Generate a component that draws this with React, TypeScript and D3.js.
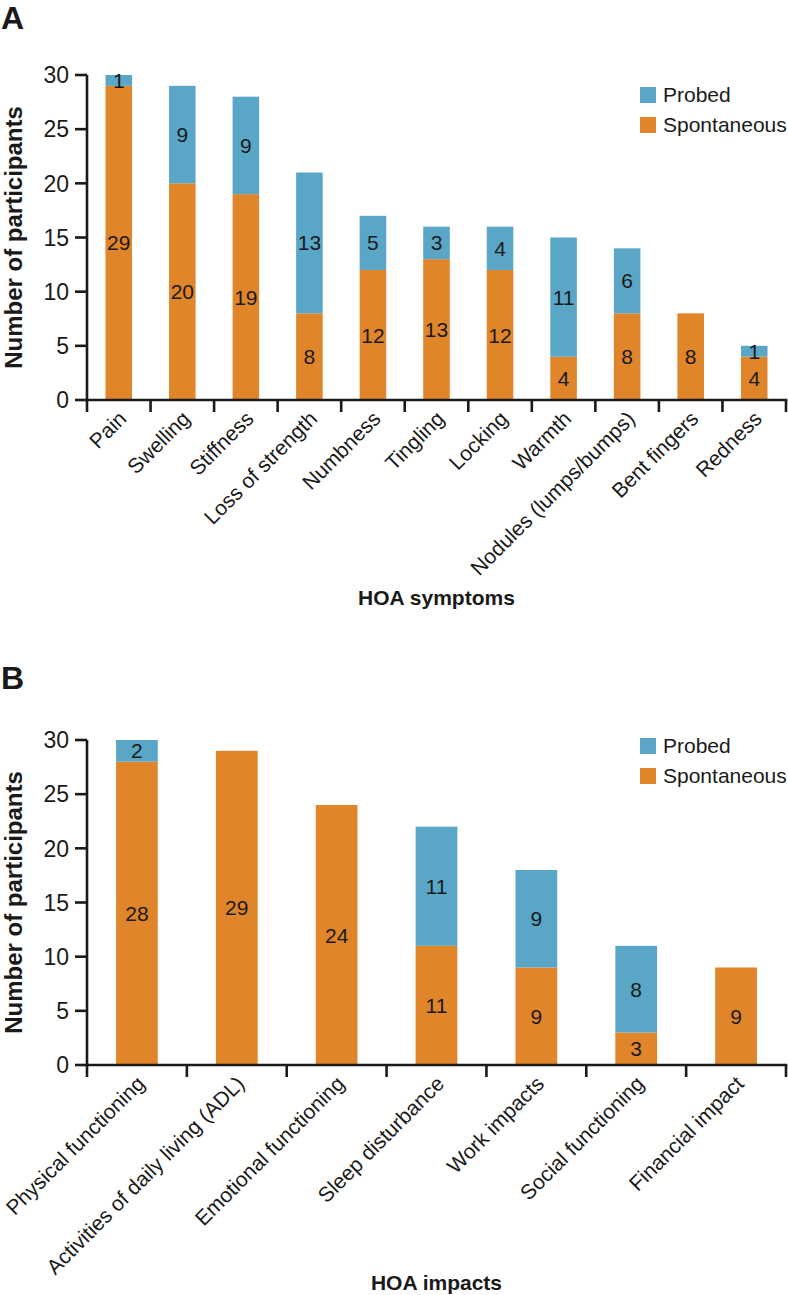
import React from "react";
import * as d3 from "d3";

const symptomCategories = [
  "Pain", "Swelling", "Stiffness", "Loss of strength", "Numbness", "Tingling",
  "Locking", "Warmth", "Nodules (lumps/bumps)", "Bent fingers", "Redness",
];
const symptomSpontaneous = [29, 20, 19, 8, 12, 13, 12, 4, 8, 8, 4];
const symptomProbed = [1, 9, 9, 13, 5, 3, 4, 11, 6, 0, 1];

const impactCategories = [
  "Physical functioning", "Activities of daily living (ADL)", "Emotional functioning",
  "Sleep disturbance", "Work impacts", "Social functioning", "Financial impact",
];
const impactSpontaneous = [28, 29, 24, 11, 9, 3, 9];
const impactProbed = [2, 0, 0, 11, 9, 8, 0];

const yTicks = [0, 5, 10, 15, 20, 25, 30];
const seriesKeys = ["Spontaneous", "Probed"];
const legendKeys = ["Probed", "Spontaneous"];

const COLORS: Record<string, string> = { Probed: "#5aa6c6", Spontaneous: "#e0852a" };
const FONT = "Arial, 'Liberation Sans', Helvetica, sans-serif";
const INK = "#1a1a1a";

type PanelProps = {
  letter: string;
  letterY: number;
  categories: string[];
  spontaneous: number[];
  probed: number[];
  top: number;
  bottom: number;
  legendY: number;
  xTitle: string;
  xTitleY: number;
};

function Panel(p: PanelProps) {
  const left = 87;
  const right = 786;
  const x = d3.scaleBand<string>().domain(p.categories).range([left, right]).padding(0);
  const y = d3.scaleLinear().domain([0, 30]).range([p.bottom, p.top]);
  const bw = x.bandwidth() * 0.418;
  const rows = p.categories.map((c, i) => ({ cat: c, Spontaneous: p.spontaneous[i], Probed: p.probed[i] }));
  const stacked = d3.stack<any>().keys(seriesKeys)(rows);
  const tickXs = [...p.categories.map((c) => x(c) as number), right];

  return (
    <g fontFamily={FONT}>
      <text x={1} y={p.letterY} fontSize={32} fontWeight="bold" fill={INK}>{p.letter}</text>
      {stacked.map((layer) => (
        <g key={layer.key}>
          {layer.map((d, i) => {
            const v = d[1] - d[0];
            if (v <= 0) return null;
            const cx = (x(p.categories[i]) as number) + x.bandwidth() / 2;
            return (
              <g key={i}>
                <rect x={cx - bw / 2} y={y(d[1])} width={bw} height={y(d[0]) - y(d[1])}
                  fill={COLORS[layer.key]} />
                <text x={cx} y={(y(d[0]) + y(d[1])) / 2} dy="0.36em" textAnchor="middle"
                  fontSize={21} fill={INK}>{v}</text>
              </g>
            );
          })}
        </g>
      ))}
      {/* y axis */}
      <line x1={left} x2={left} y1={y(30)} y2={y(0) + 1.3} stroke={INK} strokeWidth={2.6} />
      {yTicks.map((t) => (
        <g key={t}>
          <line x1={left - 12} x2={left} y1={y(t)} y2={y(t)} stroke={INK} strokeWidth={2.6} />
          <text x={69} y={y(t)} dy="0.36em" textAnchor="end" fontSize={23} fill={INK}>{t}</text>
        </g>
      ))}
      <text transform={`translate(22,${(y(0) + y(30)) / 2}) rotate(-90)`} textAnchor="middle"
        fontSize={24} fontWeight="bold" fill={INK}>Number of participants</text>
      {/* x axis */}
      <line x1={left - 1.3} x2={right + 1.3} y1={y(0)} y2={y(0)} stroke={INK} strokeWidth={2.6} />
      {tickXs.map((tx, i) => (
        <line key={i} x1={tx} x2={tx} y1={y(0)} y2={y(0) + 12} stroke={INK} strokeWidth={2.6} />
      ))}
      {p.categories.map((c) => {
        const cx = (x(c) as number) + x.bandwidth() / 2 + 9;
        const ty = y(0) + 20;
        return (
          <text key={c} transform={`translate(${cx},${ty}) rotate(-45)`} textAnchor="end"
            fontSize={21} fill={INK}>{c}</text>
        );
      })}
      <text x={(left + right) / 2} y={p.xTitleY} textAnchor="middle" fontSize={21}
        fontWeight="bold" fill={INK}>{p.xTitle}</text>
      {/* legend */}
      {legendKeys.map((k, i) => (
        <g key={k} transform={`translate(640,${p.legendY + i * 30})`}>
          <rect x={0} y={0} width={16} height={16} fill={COLORS[k]} />
          <text x={23} y={15} fontSize={21} fill={INK}>{k}</text>
        </g>
      ))}
    </g>
  );
}

export default function App() {
  return (
    <svg width={788} height={1295} style={{ position: "absolute", left: 0, top: 0, background: "#fff" }}>
      <rect width={788} height={1295} fill="#fff" />
      <Panel letter="A" letterY={29} categories={symptomCategories} spontaneous={symptomSpontaneous}
        probed={symptomProbed} top={75} bottom={400} legendY={87} xTitle="HOA symptoms" xTitleY={605} />
      <Panel letter="B" letterY={689} categories={impactCategories} spontaneous={impactSpontaneous}
        probed={impactProbed} top={740} bottom={1065} legendY={738} xTitle="HOA impacts" xTitleY={1290} />
    </svg>
  );
}
